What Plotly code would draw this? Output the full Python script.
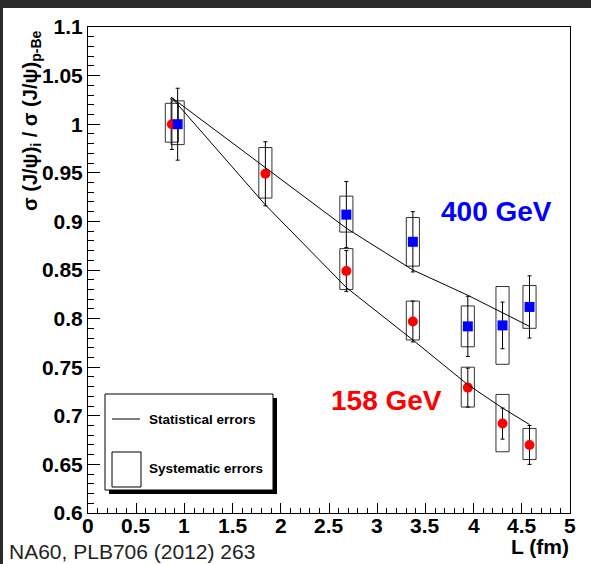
import plotly.graph_objects as go

# ---------------- data ----------------
L_158 = [0.87, 1.84, 2.68, 3.37, 3.94, 4.30, 4.58]
R_158 = [1.000, 0.949, 0.849, 0.797, 0.729, 0.692, 0.670]
stat_158 = [0.026, 0.033, 0.021, 0.021, 0.020, 0.016, 0.020]
syst_158 = [0.020, 0.026, 0.021, 0.020, 0.0205, 0.0295, 0.016]
syst_c_158 = [1.0015, 0.950, 0.851, 0.798, 0.7295, 0.6925, 0.671]

L_400 = [0.93, 2.68, 3.37, 3.94, 4.30, 4.58]
R_400 = [1.000, 0.907, 0.879, 0.792, 0.793, 0.812]
stat_400 = [0.037, 0.034, 0.031, 0.031, 0.024, 0.032]
syst_400 = [0.0225, 0.0185, 0.025, 0.021, 0.040, 0.022]
syst_c_400 = [1.0015, 0.9075, 0.879, 0.792, 0.793, 0.812]

fit_L_158 = [0.88, 1.84, 2.68, 3.37, 3.94, 4.30, 4.58]
fit_R_158 = [1.026, 0.917, 0.832, 0.778, 0.732, 0.708, 0.691]
fit_L_400 = [0.86, 2.68, 3.37, 3.94, 4.30, 4.58]
fit_R_400 = [1.028, 0.893, 0.850, 0.824, 0.806, 0.792]

y_ticks = [0.6, 0.65, 0.7, 0.75, 0.8, 0.85, 0.9, 0.95, 1.0, 1.05, 1.1]
y_tick_text = ["0.6", "0.65", "0.7", "0.75", "0.8", "0.85", "0.9", "0.95", "1", "1.05", "1.1"]
x_ticks = [0, 0.5, 1, 1.5, 2, 2.5, 3, 3.5, 4, 4.5, 5]
x_tick_text = ["0", "0.5", "1", "1.5", "2", "2.5", "3", "3.5", "4", "4.5", "5"]

# ---------------- layout helpers (window pixel coords) ----------------
WIN_W, WIN_H = 591, 564
OFF_X, OFF_Y = 3, 8          # dark page border (left / top)
W, H = WIN_W - OFF_X, WIN_H - OFF_Y
PL, PR, PT, PB = 88, 570, 27, 513


def px(x):
    return (x - PL) / (PR - PL)


def py(y):
    return (PB - y) / (PB - PT)


FONT = "Liberation Sans, Arial, sans-serif"
BOX_HW = 0.068

fig = go.Figure()

shapes = []
# systematic boxes
for L, c, s in zip(L_158, syst_c_158, syst_158):
    shapes.append(dict(type="rect", xref="x", yref="y", x0=L - BOX_HW, x1=L + BOX_HW,
                       y0=c - s, y1=c + s, line=dict(color="#333333", width=1),
                       fillcolor="rgba(0,0,0,0)", layer="below"))
for L, c, s in zip(L_400, syst_c_400, syst_400):
    shapes.append(dict(type="rect", xref="x", yref="y", x0=L - BOX_HW, x1=L + BOX_HW,
                       y0=c - s, y1=c + s, line=dict(color="#333333", width=1),
                       fillcolor="rgba(0,0,0,0)", layer="below"))

# legend box with shadow
shapes.append(dict(type="rect", xref="paper", yref="paper", x0=px(109), x1=px(277),
                   y0=py(494), y1=py(398), line=dict(width=0), fillcolor="black", layer="above"))
shapes.append(dict(type="rect", xref="paper", yref="paper", x0=px(105), x1=px(273),
                   y0=py(490), y1=py(394), line=dict(color="black", width=1),
                   fillcolor="white", layer="above"))
shapes.append(dict(type="line", xref="paper", yref="paper", x0=px(112), x1=px(140),
                   y0=py(419), y1=py(419), line=dict(color="black", width=1), layer="above"))
shapes.append(dict(type="rect", xref="paper", yref="paper", x0=px(112), x1=px(141),
                   y0=py(487), y1=py(452), line=dict(color="black", width=1),
                   fillcolor="white", layer="above"))

# markers with stat errors
fig.add_trace(go.Scatter(
    x=L_158, y=R_158, mode="markers",
    marker=dict(symbol="circle", size=10, color="#ff0000", line=dict(width=0)),
    error_y=dict(type="data", array=stat_158, visible=True, color="black", thickness=1, width=2),
    showlegend=False, hoverinfo="skip"))
fig.add_trace(go.Scatter(
    x=L_400, y=R_400, mode="markers",
    marker=dict(symbol="square", size=10, color="#0000ff", line=dict(width=0)),
    error_y=dict(type="data", array=stat_400, visible=True, color="black", thickness=1, width=2),
    showlegend=False, hoverinfo="skip"))

# fit curves
fig.add_trace(go.Scatter(x=fit_L_158, y=fit_R_158, mode="lines",
                         line=dict(color="black", width=1), showlegend=False, hoverinfo="skip"))
fig.add_trace(go.Scatter(x=fit_L_400, y=fit_R_400, mode="lines",
                         line=dict(color="black", width=1), showlegend=False, hoverinfo="skip"))

tick_font = dict(family=FONT, size=21, color="black", weight="bold")

annotations = [
    dict(text="σ (J/ψ)<sub>i</sub> / σ (J/ψ)<sub>p-Be</sub>", xref="paper", yref="paper",
         x=px(31), y=py(121), xanchor="center", yanchor="middle", textangle=-90,
         showarrow=False, font=dict(family=FONT, size=20, color="black", weight="bold")),
    dict(text="L (fm)", xref="paper", yref="paper", x=px(571), y=py(546),
         xanchor="right", yanchor="middle", showarrow=False,
         font=dict(family=FONT, size=21, color="black", weight="bold")),
    dict(text="NA60, PLB706 (2012) 263", xref="paper", yref="paper", x=px(7), y=py(551),
         xanchor="left", yanchor="middle", showarrow=False,
         font=dict(family=FONT, size=21, color="#222222")),
    dict(text="400 GeV", xref="paper", yref="paper", x=px(496), y=py(211),
         xanchor="center", yanchor="middle", showarrow=False,
         font=dict(family=FONT, size=28, color="#0000ff", weight="bold")),
    dict(text="158 GeV", xref="paper", yref="paper", x=px(386), y=py(401),
         xanchor="center", yanchor="middle", showarrow=False,
         font=dict(family=FONT, size=28, color="#ff0000", weight="bold")),
    dict(text="Statistical errors", xref="paper", yref="paper", x=px(147), y=py(419),
         xanchor="left", yanchor="middle", showarrow=False,
         font=dict(family=FONT, size=13.5, color="black", weight="bold")),
    dict(text="Systematic errors", xref="paper", yref="paper", x=px(147), y=py(468),
         xanchor="left", yanchor="middle", showarrow=False,
         font=dict(family=FONT, size=13.5, color="black", weight="bold")),
]
# x tick labels placed right under the axis (ROOT style)
for xv, xt in zip(x_ticks, x_tick_text):
    annotations.append(dict(text=xt, xref="x", yref="paper", x=xv, y=py(525),
                            xanchor="center", yanchor="middle", showarrow=False,
                            font=tick_font))

fig.update_layout(
    width=W, height=H,
    margin=dict(l=PL - OFF_X, r=WIN_W - PR, t=PT - OFF_Y, b=WIN_H - PB, pad=0,
                autoexpand=False),
    paper_bgcolor="white", plot_bgcolor="white",
    shapes=shapes, annotations=annotations,
    xaxis=dict(range=[0, 5], tickvals=x_ticks, ticktext=x_tick_text, showticklabels=False,
               ticks="inside", ticklen=10, tickcolor="black", tickwidth=1,
               showline=True, linecolor="black", linewidth=1, mirror=True,
               showgrid=False, zeroline=False, automargin=False,
               minor=dict(ticks="inside", dtick=0.1, tick0=0, ticklen=5,
                          tickcolor="black", showgrid=False)),
    yaxis=dict(range=[0.6, 1.1], tickvals=y_ticks, ticktext=y_tick_text,
               ticks="inside", ticklen=12, tickcolor="black", tickwidth=1,
               showline=True, linecolor="black", linewidth=1, mirror=True,
               showgrid=False, zeroline=False, tickfont=tick_font, automargin=False,
               minor=dict(ticks="inside", dtick=0.01, tick0=0.6, ticklen=6,
                          tickcolor="black", showgrid=False)),
)

post = ("document.body.style.margin='0';"
        "document.body.style.background='#2b2b2b';"
        "document.body.style.overflow='hidden';"
        "var d=document.getElementById('{plot_id}');"
        "d.style.position='absolute';d.style.left='%dpx';d.style.top='%dpx';" % (OFF_X, OFF_Y))

fig.write_html("out.html", config={"displayModeBar": False}, post_script=post)
